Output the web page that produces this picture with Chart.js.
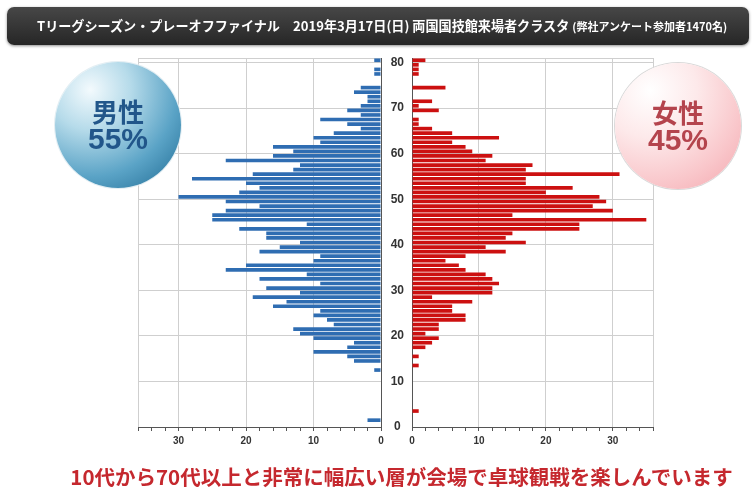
<!DOCTYPE html>
<html><head><meta charset="utf-8">
<script src="https://cdn.jsdelivr.net/npm/chart.js@4.4.1/dist/chart.umd.min.js"></script>
<style>
html,body{margin:0;padding:0;background:#fff;width:755px;height:490px;overflow:hidden;}
#wrap{position:relative;width:755px;height:490px;}
canvas{position:absolute;top:0;}
#cl{left:0;}
#cr{left:370px;}
#title{position:absolute;left:7px;top:7px;width:742px;height:38px;border-radius:7px;
 background:linear-gradient(#474747,#262626);box-shadow:0 1px 3px rgba(0,0,0,0.45);
 color:#fff;font-family:"Noto Sans CJK JP",sans-serif;font-weight:bold;font-size:13.1px;line-height:38px;white-space:nowrap;z-index:3;}
#title .t{position:absolute;left:30px;top:0;}
#title small{font-size:11px;}
.circle{position:absolute;width:126px;height:126px;border-radius:50%;z-index:2;
 display:flex;flex-direction:column;align-items:center;justify-content:center;font-weight:bold;}
#cm{left:55px;top:62px;background:radial-gradient(circle at 28% 22%,#f3fafd 0%,#b6dbea 30%,#5aa3c6 65%,#1d6891 100%);
 box-shadow:0 0 0 1px #e3eef3;color:#21568a;}
#cf{left:615px;top:63px;background:radial-gradient(circle at 28% 22%,#ffffff 0%,#fde9ea 35%,#f9c6ca 70%,#f3a6ad 100%);
 box-shadow:0 0 0 1px #d9d9d9;color:#b4444d;}
.circle .a{font-family:"Noto Sans CJK JP",sans-serif;font-size:26px;line-height:27px;}
.circle .b{font-family:"Liberation Sans",Arial,sans-serif;font-size:30px;line-height:30px;}
#foot{position:absolute;left:0;width:755px;top:463px;text-align:center;padding-left:48px;box-sizing:border-box;
 font-family:"Noto Sans CJK JP",sans-serif;font-weight:bold;font-size:20.5px;line-height:26px;color:#c5282e;white-space:nowrap;}
</style></head>
<body><div id="wrap">
<canvas id="cl" width="400" height="490"></canvas>
<canvas id="cr" width="385" height="490"></canvas>
<div id="title"><span class="t">Tリーグシーズン・プレーオフファイナル　2019年3月17日(日) 両国国技館来場者クラスタ <small>(弊社アンケート参加者1470名)</small></span></div>
<div class="circle" id="cm"><div class="a">男性</div><div class="b">55%</div></div>
<div class="circle" id="cf"><div class="a">女性</div><div class="b">45%</div></div>
<div id="foot">10代から70代以上と非常に幅広い層が会場で卓球観戦を楽しんでいます</div>
</div>
<script>
const ages = [0,1,2,3,4,5,6,7,8,9,10,11,12,13,14,15,16,17,18,19,20,21,22,23,24,25,26,27,28,29,30,31,32,33,34,35,36,37,38,39,40,41,42,43,44,45,46,47,48,49,50,51,52,53,54,55,56,57,58,59,60,61,62,63,64,65,66,67,68,69,70,71,72,73,74,75,76,77,78,79,80];
const male = [0,2,0,0,0,0,0,0,0,0, 0,0,1,0,4,5,10,5,4,10, 12,13,7,8,10,9,16,14,19,12, 17,9,18,11,23,20,10,9,18,15, 12,17,17,21,11,25,25,23,18,23, 30,21,18,20,28,19,13,12,23,16, 13,16,9,10,7,3,5,9,3,5, 3,2,2,4,3,0,0,1,1,0, 1];
const female = [0,0,0,1,0,0,0,0,0,0, 0,0,0,1,0,1,0,2,3,4, 2,4,4,8,8,6,6,9,3,12, 12,13,12,11,8,7,5,8,14,11, 17,14,15,25,25,35,15,30,27,29, 28,20,24,17,17,31,17,18,11,12, 9,8,6,13,6,3,1,1,0,4, 1,3,0,0,5,0,0,1,1,1, 2];
const xTicks = [0,10,20,30];
const ageTicks = [0,10,20,30,40,50,60,70,80];

const maleColor = '#2f6db2';
const femaleColor = '#cc1010';
const gridColor = '#cfcfcf';
const axisColor = '#555555';
const X_MAX = 36, Y_MAX = 81;

function pts(vals){ return ages.map((a,i)=>({x: vals[i], y: a + 0.5})); }

function xScale(reverse){
  return {
    type:'linear', reverse, min:0, max:X_MAX, offset:false,
    ticks:{stepSize:2, autoSkip:false, maxRotation:0, padding:4, color:'#333',
      font:{family:'Liberation Sans', weight:'bold', size:10},
      callback: v => xTicks.includes(v) ? String(v) : ''},
    grid:{ offset:false, color: c => (c.tick && (xTicks.includes(c.tick.value) || c.tick.value===X_MAX)) ? gridColor : 'rgba(0,0,0,0)',
      tickColor: axisColor, tickLength:4, drawTicks:true },
    border:{color:axisColor, width:1},
    afterFit: s => { s.height = 25; }
  };
}

function yScale(position, showLabels){
  return {
    type:'linear', position, min:0, max:Y_MAX, offset:false,
    afterBuildTicks: s => { s.ticks = ageTicks.concat([Y_MAX]).map(v => ({value:v})); },
    ticks:{ display:showLabels, autoSkip:false, crossAlign:'center', padding:8, color:'#333',
      font:{family:'Liberation Sans', weight:'bold', size:12},
      callback: v => ageTicks.includes(v) ? String(v) : ''},
    grid:{ offset:false, color: c => (c.tick && c.tick.value===0) ? 'rgba(0,0,0,0)' : gridColor, drawTicks:false },
    border:{color:axisColor},
    afterFit: s => { s.width = showLabels ? 42 : 19; }
  };
}

const makeConfig = (vals, color, padding, xs, ys) => ({
  type:'bar',
  data:{ datasets:[{ data: pts(vals), backgroundColor: color, borderWidth:0, barPercentage:0.8, categoryPercentage:1 }] },
  options:{
    indexAxis:'y', responsive:false, animation:false,
    layout:{ padding },
    plugins:{ legend:{display:false}, tooltip:{enabled:false} },
    scales:{ x: xs, y: ys }
  }
});

new Chart(document.getElementById('cl'), makeConfig(male, maleColor,
  {left:138, top:58, right:0, bottom:38}, xScale(true), yScale('right', false)));

new Chart(document.getElementById('cr'), makeConfig(female, femaleColor,
  {left:0, top:58, right:102, bottom:38}, xScale(false), yScale('left', true)));
</script>
</body></html>
